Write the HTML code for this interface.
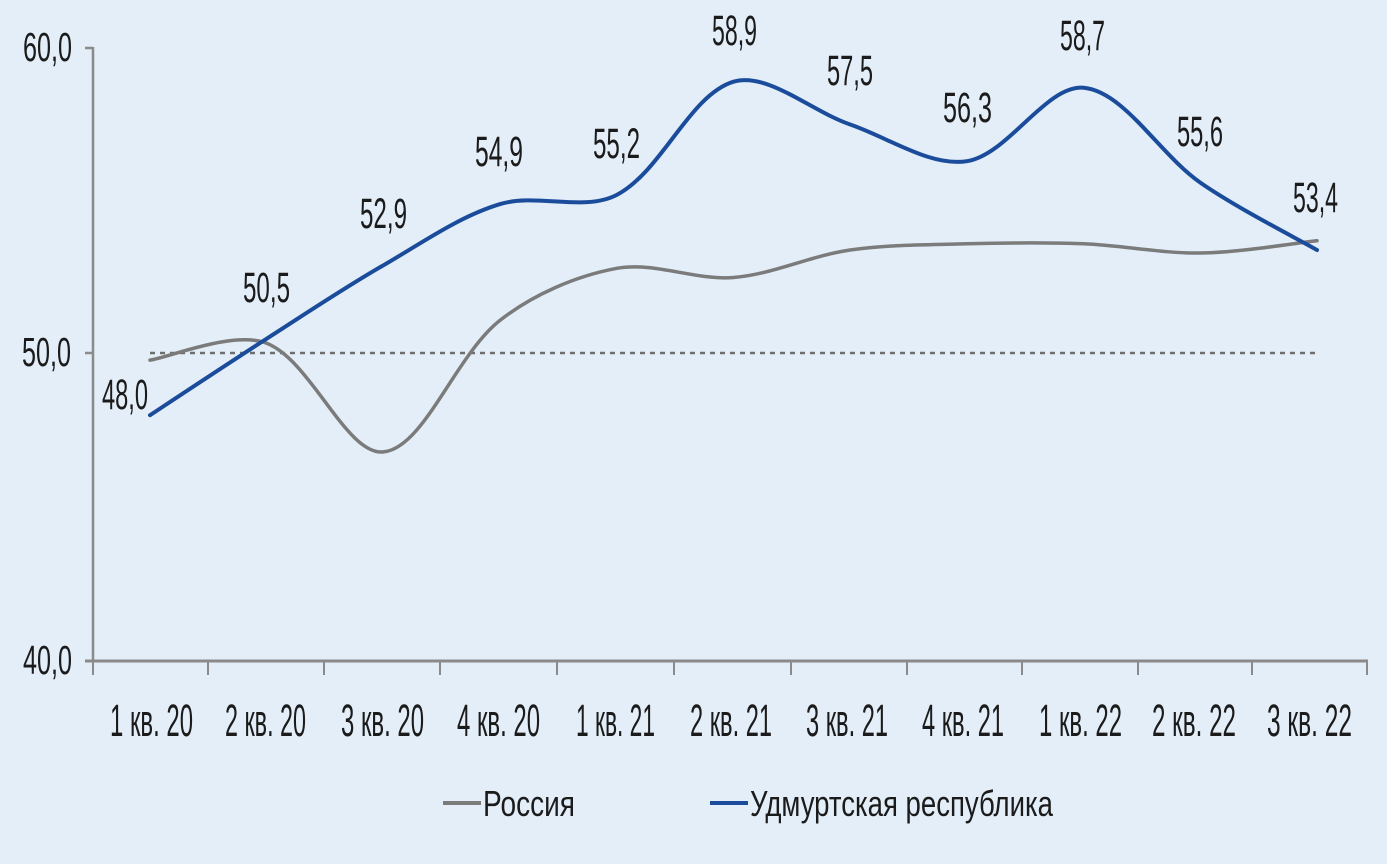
<!DOCTYPE html>
<html>
<head>
<meta charset="utf-8">
<style>
html,body{margin:0;padding:0;background:#e3eef8;}
svg{display:block;}
text{font-family:"Liberation Sans Narrow","Liberation Sans",sans-serif;fill:#1b1b1b;}
</style>
</head>
<body>
<svg id="chart" width="1387" height="864" viewBox="0 0 1387 864" xmlns="http://www.w3.org/2000/svg">
  <rect x="0" y="0" width="1387" height="864" fill="#e3eef8"/>

  <!-- dashed 50 line -->
  <line x1="150" y1="353" x2="1317" y2="353" stroke="#6e6e6e" stroke-width="2.5" stroke-dasharray="5,5"/>

  <!-- y axis -->
  <line x1="93" y1="47" x2="93" y2="662" stroke="#8a8a8a" stroke-width="2.5"/>
  <line x1="85" y1="48" x2="93" y2="48" stroke="#8a8a8a" stroke-width="2.5"/>
  <line x1="85" y1="353" x2="93" y2="353" stroke="#8a8a8a" stroke-width="2.5"/>
  <!-- x axis -->
  <line x1="85" y1="661" x2="1368" y2="661" stroke="#8a8a8a" stroke-width="3"/>
  <g stroke="#8a8a8a" stroke-width="2">
    <line x1="93" y1="661" x2="93" y2="675"/>
    <line x1="208" y1="661" x2="208" y2="675"/>
    <line x1="324" y1="661" x2="324" y2="675"/>
    <line x1="440" y1="661" x2="440" y2="675"/>
    <line x1="557" y1="661" x2="557" y2="675"/>
    <line x1="674" y1="661" x2="674" y2="675"/>
    <line x1="791" y1="661" x2="791" y2="675"/>
    <line x1="907" y1="661" x2="907" y2="675"/>
    <line x1="1022" y1="661" x2="1022" y2="675"/>
    <line x1="1138" y1="661" x2="1138" y2="675"/>
    <line x1="1252" y1="661" x2="1252" y2="675"/>
    <line x1="1367" y1="661" x2="1367" y2="675"/>
  </g>

  <!-- y labels -->
  <g font-size="41">
    <text x="23" y="61" textLength="49" lengthAdjust="spacingAndGlyphs">60,0</text>
    <text x="22" y="366" textLength="49" lengthAdjust="spacingAndGlyphs">50,0</text>
    <text x="23" y="674" textLength="49" lengthAdjust="spacingAndGlyphs">40,0</text>
  </g>

  <!-- series -->
  <path id="gray" d="M150,360 L267,343 L383,451 L500,320 L617,268 L733,277 L850,249 L967,243 L1084,243 L1200,252 L1317,240" fill="none" stroke="#7b7b7b" stroke-width="3.5" stroke-linejoin="round" stroke-linecap="round"/>
  <path id="blue" d="M150,415 L267,339 L383,265 L500,204 L617,195 L733,82 L850,124 L967,161 L1084,88 L1200,183 L1317,250" fill="none" stroke="#1b4c9b" stroke-width="4" stroke-linejoin="round" stroke-linecap="round"/>

  <!-- data labels -->
  <g font-size="43">
    <text x="102" y="409" textLength="46" lengthAdjust="spacingAndGlyphs">48,0</text>
    <text x="243" y="302" textLength="47" lengthAdjust="spacingAndGlyphs">50,5</text>
    <text x="360" y="228" textLength="47" lengthAdjust="spacingAndGlyphs">52,9</text>
    <text x="475" y="166" textLength="48" lengthAdjust="spacingAndGlyphs">54,9</text>
    <text x="593" y="158" textLength="47" lengthAdjust="spacingAndGlyphs">55,2</text>
    <text x="712" y="45" textLength="45" lengthAdjust="spacingAndGlyphs">58,9</text>
    <text x="827" y="85" textLength="46" lengthAdjust="spacingAndGlyphs">57,5</text>
    <text x="943" y="122" textLength="49" lengthAdjust="spacingAndGlyphs">56,3</text>
    <text x="1060" y="50" textLength="45" lengthAdjust="spacingAndGlyphs">58,7</text>
    <text x="1177" y="146" textLength="46" lengthAdjust="spacingAndGlyphs">55,6</text>
    <text x="1293" y="212" textLength="45" lengthAdjust="spacingAndGlyphs">53,4</text>
  </g>

  <!-- x labels -->
  <g font-size="45">
    <text x="110" y="736" textLength="83" lengthAdjust="spacingAndGlyphs">1 кв. 20</text>
    <text x="225" y="736" textLength="81" lengthAdjust="spacingAndGlyphs">2 кв. 20</text>
    <text x="341" y="736" textLength="83" lengthAdjust="spacingAndGlyphs">3 кв. 20</text>
    <text x="457" y="736" textLength="83" lengthAdjust="spacingAndGlyphs">4 кв. 20</text>
    <text x="576" y="736" textLength="79" lengthAdjust="spacingAndGlyphs">1 кв. 21</text>
    <text x="690" y="736" textLength="82" lengthAdjust="spacingAndGlyphs">2 кв. 21</text>
    <text x="806" y="736" textLength="82" lengthAdjust="spacingAndGlyphs">3 кв. 21</text>
    <text x="922" y="736" textLength="82" lengthAdjust="spacingAndGlyphs">4 кв. 21</text>
    <text x="1039" y="736" textLength="83" lengthAdjust="spacingAndGlyphs">1 кв. 22</text>
    <text x="1152" y="736" textLength="84" lengthAdjust="spacingAndGlyphs">2 кв. 22</text>
    <text x="1267" y="736" textLength="85" lengthAdjust="spacingAndGlyphs">3 кв. 22</text>
  </g>

  <!-- legend -->
  <line x1="443" y1="803" x2="481" y2="803" stroke="#7b7b7b" stroke-width="4"/>
  <text x="483" y="816" font-size="36" textLength="92" lengthAdjust="spacingAndGlyphs">Россия</text>
  <line x1="710" y1="803" x2="748" y2="803" stroke="#1b4c9b" stroke-width="4"/>
  <text x="750" y="816" font-size="36" textLength="303" lengthAdjust="spacingAndGlyphs">Удмуртская республика</text>
</svg>
<script>
(function(){
  function Y(v){return 354-(v-50)*30.6;}
  function X(i){return 150+116.7*i;}
  function smooth(vals){
    var p=vals.map(function(v,i){return [X(i),Y(v)];});
    var n=p.length;
    function dist(a,b){return Math.hypot(b[0]-a[0],b[1]-a[1]);}
    var d="M"+p[0][0].toFixed(1)+","+p[0][1].toFixed(1);
    for(var i=0;i<n-1;i++){
      var p0=p[i-1]||p[i],p1=p[i],p2=p[i+1],p3=p[i+2]||p[i+1];
      var d01=dist(p0,p1),d12=dist(p1,p2),d23=dist(p2,p3);
      var r1=(d01===0)?0.5:d12/(d01+d12);
      var r2=(d23===0)?0.5:d12/(d12+d23);
      var c1=[p1[0]+(p2[0]-p0[0])*r1/3,p1[1]+(p2[1]-p0[1])*r1/3];
      var c2=[p2[0]-(p3[0]-p1[0])*r2/3,p2[1]-(p3[1]-p1[1])*r2/3];
      d+=" C"+c1[0].toFixed(1)+","+c1[1].toFixed(1)+" "+c2[0].toFixed(1)+","+c2[1].toFixed(1)+" "+p2[0].toFixed(1)+","+p2[1].toFixed(1);
    }
    return d;
  }
  var blue=[48.0,50.5,52.9,54.9,55.2,58.9,57.5,56.3,58.7,55.6,53.4];
  var gray=[49.8,50.35,46.8,51.1,52.8,52.5,53.4,53.6,53.6,53.3,53.7];
  document.getElementById("blue").setAttribute("d",smooth(blue));
  document.getElementById("gray").setAttribute("d",smooth(gray));
})();
</script>
</body>
</html>
